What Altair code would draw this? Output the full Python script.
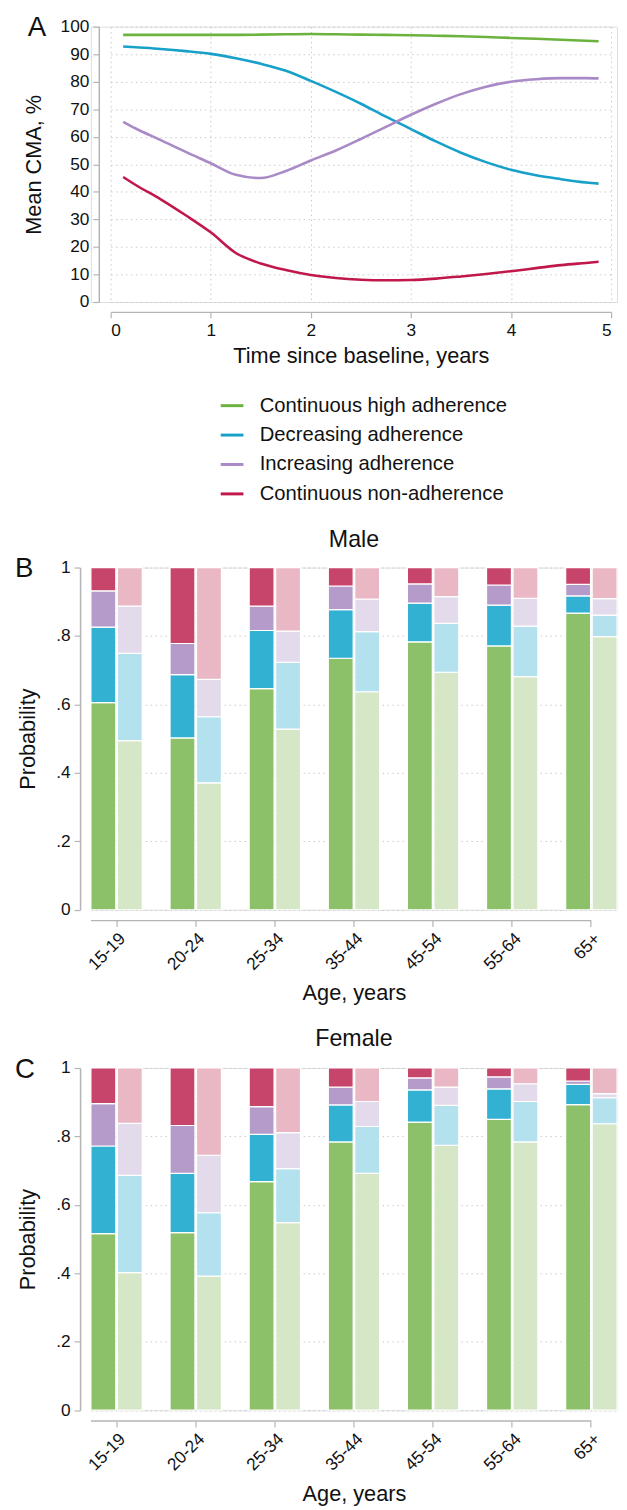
import altair as alt
import pandas as pd

FONT = "Liberation Sans"
AX_GRAY = "#b4b4b4"
GRID_GRAY = "#c9c9c9"

# ---------------- Panel A data ----------------
classes = ["Continuous high adherence", "Decreasing adherence",
           "Increasing adherence", "Continuous non-adherence"]
line_colors = ["#6cb33e", "#17a1c9", "#a98ac7", "#c0184a"]

time_years = [0.125, 0.25, 0.5, 0.75, 1.0, 1.25, 1.5, 1.75, 2.0, 2.25, 2.5,
              2.75, 3.0, 3.25, 3.5, 3.75, 4.0, 4.25, 4.5, 4.75, 4.875]
cma_high = [97.0, 97.0, 97.0, 97.0, 97.0, 97.0, 97.1, 97.2, 97.3, 97.2, 97.1,
            97.0, 96.9, 96.7, 96.5, 96.2, 95.9, 95.6, 95.2, 94.9, 94.7]
cma_decr = [92.8, 92.5, 91.9, 91.1, 90.1, 88.5, 86.5, 84.0, 80.3, 76.3, 72.0,
            67.3, 62.8, 58.3, 54.2, 50.8, 48.0, 46.0, 44.6, 43.4, 43.0]
cma_incr = [65.4, 63.0, 58.8, 54.5, 50.4, 46.2, 45.0, 47.6, 51.4, 55.0, 59.2,
            63.6, 68.0, 72.0, 75.5, 78.2, 80.0, 80.9, 81.3, 81.3, 81.2]
cma_non = [45.4, 42.5, 37.3, 31.5, 25.3, 17.8, 14.0, 11.6, 9.8, 8.7, 8.1,
           7.9, 8.0, 8.5, 9.3, 10.2, 11.2, 12.3, 13.4, 14.2, 14.6]

# ---------------- Panels B / C data ----------------
ages = ["15-19", "20-24", "25-34", "35-44", "45-54", "55-64", "65+"]

# Male, first (dark) bars
male_d_high = [0.605, 0.502, 0.646, 0.735, 0.783, 0.771, 0.867]
male_d_decr = [0.221, 0.185, 0.170, 0.142, 0.113, 0.119, 0.050]
male_d_incr = [0.106, 0.091, 0.071, 0.069, 0.056, 0.059, 0.034]
male_d_non = [0.068, 0.222, 0.113, 0.054, 0.048, 0.051, 0.049]
# Male, second (light) bars
male_l_high = [0.494, 0.371, 0.528, 0.637, 0.694, 0.681, 0.798]
male_l_decr = [0.255, 0.193, 0.195, 0.176, 0.143, 0.148, 0.063]
male_l_incr = [0.138, 0.109, 0.091, 0.095, 0.078, 0.081, 0.048]
male_l_non = [0.113, 0.327, 0.186, 0.092, 0.085, 0.090, 0.091]
# Female, first (dark) bars
female_d_high = [0.516, 0.519, 0.668, 0.784, 0.842, 0.850, 0.893]
female_d_decr = [0.256, 0.173, 0.138, 0.108, 0.094, 0.089, 0.059]
female_d_incr = [0.124, 0.140, 0.081, 0.052, 0.035, 0.035, 0.010]
female_d_non = [0.104, 0.168, 0.113, 0.056, 0.029, 0.026, 0.038]
# Female, second (light) bars
female_l_high = [0.402, 0.392, 0.548, 0.692, 0.774, 0.784, 0.837]
female_l_decr = [0.284, 0.185, 0.158, 0.137, 0.117, 0.118, 0.076]
female_l_incr = [0.152, 0.168, 0.105, 0.073, 0.053, 0.052, 0.012]
female_l_non = [0.162, 0.255, 0.189, 0.098, 0.056, 0.046, 0.075]

dark_colors = ["#8cc069", "#33b1d2", "#b49bca", "#c7456a"]
light_colors = ["#d5e7c7", "#b3e2ee", "#e3dbeb", "#eab8c5"]

# ---------------- build tables ----------------
rows = []
for cls, ys in zip(classes, [cma_high, cma_decr, cma_incr, cma_non]):
    for t, v in zip(time_years, ys):
        rows.append({"t": t, "cma": v, "cls": cls})
df_a = pd.DataFrame(rows)


def bar_table(dark, light):
    out = []
    for model, series in (("m1", dark), ("m2", light)):
        for k, (cls, vals) in enumerate(zip(classes, series)):
            for age, v in zip(ages, vals):
                out.append({"age": age, "model": model, "cls": cls, "order": k,
                            "value": v, "key": model + "|" + cls})
    return pd.DataFrame(out)


df_m = bar_table([male_d_high, male_d_decr, male_d_incr, male_d_non],
                 [male_l_high, male_l_decr, male_l_incr, male_l_non])
df_f = bar_table([female_d_high, female_d_decr, female_d_incr, female_d_non],
                 [female_l_high, female_l_decr, female_l_incr, female_l_non])

bar_keys = ["m1|" + c for c in classes] + ["m2|" + c for c in classes]
bar_colors = dark_colors + light_colors

W = 533
H_BAR = 346.7
X_OFF = 11

common_axis = dict(domainColor=AX_GRAY, tickColor=AX_GRAY, domainWidth=1.5,
                   tickWidth=1.2, labelFont=FONT, titleFont=FONT,
                   labelColor="#111111", titleColor="#111111",
                   titleFontWeight="normal", gridColor=GRID_GRAY,
                   gridDash=[1.5, 3.5], gridWidth=1)


def text_layer(txt, x, y, size, align="left"):
    return alt.Chart(pd.DataFrame({"t": [txt]})).mark_text(
        fontSize=size, font=FONT, align=align, baseline="alphabetic",
        color="#111111"
    ).encode(text="t:N", x=alt.value(x), y=alt.value(y))


# ---------------- Panel A ----------------
lines = alt.Chart(df_a).mark_line(strokeWidth=2.6, interpolate="monotone").encode(
    x=alt.X("t:Q", title="Time since baseline, years",
            scale=alt.Scale(domain=[0, 5], range=[20, 527], nice=False, zero=False),
            axis=alt.Axis(values=[0, 1, 2, 3, 4, 5], offset=10, tickSize=6,
                          labelPadding=4, labelFontSize=17.5, titleFontSize=22,
                          titlePadding=7, grid=True, **common_axis)),
    y=alt.Y("cma:Q", title="Mean CMA, %",
            scale=alt.Scale(domain=[0, 100], nice=False),
            axis=alt.Axis(values=list(range(0, 101, 10)), offset=-8, tickSize=6,
                          labelPadding=4, labelFontSize=17.5, titleFontSize=22,
                          titlePadding=15, grid=True, **common_axis)),
    color=alt.Color("cls:N", scale=alt.Scale(domain=classes, range=line_colors),
                    legend=alt.Legend(orient="none", legendX=130, legendY=371,
                                      title=None, symbolType="stroke",
                                      symbolSize=529, symbolStrokeWidth=3,
                                      labelFontSize=20.5, labelFont=FONT,
                                      labelColor="#111111", labelOffset=15,
                                      rowPadding=5.8, labelLimit=400)),
)

panel_a = alt.layer(lines, text_layer("A", -64, 10, 28)).properties(width=W, height=279)

# x axis line of the bar panels runs from the first bar's edge to the last tick
axis_span = pd.DataFrame({"a": [ages[0]], "b": [ages[-1]]})


# ---------------- Panels B / C ----------------
def bar_panel(df, title, letter, title_gap):
    xscale = alt.Scale(domain=ages, paddingInner=0.351, paddingOuter=0)
    bars = alt.Chart(df).transform_stack(
        stack="value", groupby=["age", "model"], as_=["y0", "y1"],
        sort=[alt.SortField("order", order="ascending")]
    ).mark_bar(stroke="white", strokeWidth=1.2).encode(
        x=alt.X("age:N", title="Age, years", scale=xscale,
                axis=alt.Axis(labelAngle=-45, offset=X_OFF, tickSize=6,
                              labelPadding=3, labelFontSize=17.5,
                              titleFontSize=22, titlePadding=10, grid=True,
                              domain=False, **common_axis)),
        xOffset=alt.XOffset("model:N", sort=["m1", "m2"],
                            scale=alt.Scale(paddingInner=0.06, paddingOuter=0)),
        y=alt.Y("y0:Q", title="Probability",
                scale=alt.Scale(domain=[0, 1], nice=False),
                axis=alt.Axis(values=[0, 0.2, 0.4, 0.6, 0.8, 1],
                              labelExpr="datum.value == 0 ? '0' : datum.value == 1 ? '1' : replace(format(datum.value, '.1f'), '0.', '.')",
                              offset=11, tickSize=6, labelPadding=4,
                              labelFontSize=17.5, titleFontSize=22,
                              titlePadding=17, grid=True, **common_axis)),
        y2="y1:Q",
        color=alt.Color("key:N", scale=alt.Scale(domain=bar_keys, range=bar_colors),
                        legend=None),
    )
    domain_line = alt.Chart(axis_span).mark_rule(
        color=AX_GRAY, strokeWidth=1.5
    ).encode(
        x=alt.X("a:N", bandPosition=0),
        x2=alt.X2("b:N", bandPosition=0.5),
        y=alt.value(H_BAR + X_OFF),
    )
    return alt.layer(
        bars,
        domain_line,
        text_layer(letter, -77, 10, 28),
        text_layer(title, W / 2, -title_gap, 23.5, align="center"),
    ).properties(width=W, height=H_BAR)


panel_b = bar_panel(df_m, "Male", "B", 20.6)
panel_c = bar_panel(df_f, "Female", "C", 22)

chart = alt.vconcat(panel_a, panel_b, panel_c, spacing=22).resolve_scale(
    color="independent", x="independent", y="independent"
).resolve_legend(color="independent").properties(
    padding={"left": 6, "top": -4, "right": 0, "bottom": 0}
).configure_view(stroke=None).configure(background="white")

chart.save("out.html", embed_options={"renderer": "svg", "actions": False})
